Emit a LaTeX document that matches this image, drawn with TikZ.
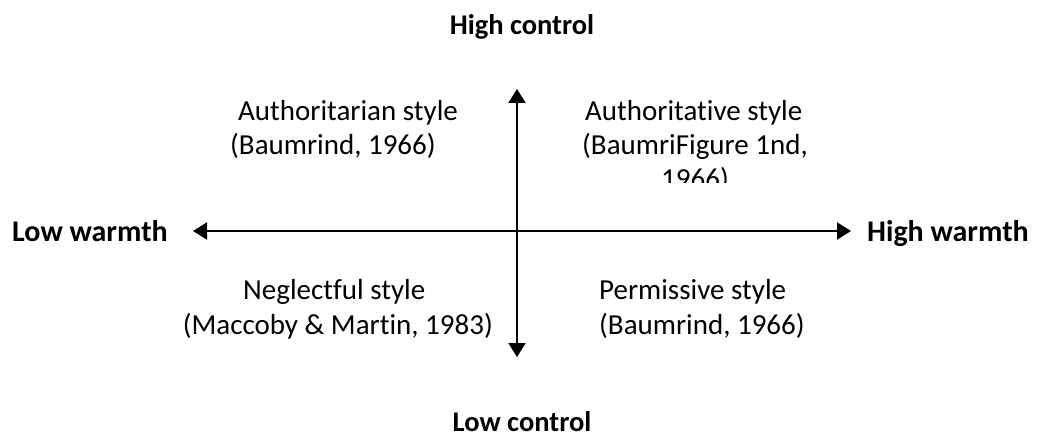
\documentclass[tikz,border=0pt]{standalone}
\usepackage{fontspec}
\setmainfont{Carlito}[Ligatures=NoCommon]
\usetikzlibrary{arrows.meta}
\begin{document}
\begin{tikzpicture}[x=1pt,y=-1pt,
  controllabel/.style={font=\fontsize{28.5}{34}\selectfont\bfseries, anchor=base, inner sep=0pt},
  warmthlabel/.style={font=\fontsize{30}{36}\selectfont\bfseries, anchor=base west, inner sep=0pt},
  quadtext/.style={font=\fontsize{29}{35}\selectfont, anchor=base west, inner sep=0pt},
  axis/.style={line width=2pt, {Triangle[length=14pt,width=17pt]}-{Triangle[length=14pt,width=17pt]}}]
  \useasboundingbox (0,0) rectangle (1037,441);
  % axis end points
  \coordinate (top) at (517,89);
  \coordinate (bottom) at (517,357);
  \coordinate (left) at (193,231);
  \coordinate (right) at (851,231);
  \draw[axis] (bottom) -- (top);
  \draw[axis] (left) -- (right);
  % axis labels
  \node[controllabel] (hc) at (522,35) {High control};
  \node[controllabel] (lc) at (522,431) {Low control};
  \node[warmthlabel] (lw) at (12,241) {Low warmth};
  \node[warmthlabel] (hw) at (867,241) {High warmth};
  % quadrants
  \node[quadtext] (q1a) at (238,121) {Authoritarian style};
  \node[quadtext] (q1b) at (230,155) {(Baumrind, 1966)};
  \node[quadtext] (q2a) at (585,121) {Authoritative style};
  \node[quadtext] (q2b) at (582,155) {(BaumriFigure 1nd,};
  \begin{scope}
    \clip (560,160) rectangle (830,183);
    \node[quadtext] (q2c) at (661,189) {1966)};
  \end{scope}
  \node[quadtext] (q3a) at (243,299) {Neglectful style};
  \node[quadtext, anchor=base east] (q3b) at (493,334) {(Maccoby \& Martin, 1983)};
  \node[quadtext] (q4a) at (599,299) {Permissive style};
  \node[quadtext] (q4b) at (599,334) {(Baumrind, 1966)};
\end{tikzpicture}
\end{document}
